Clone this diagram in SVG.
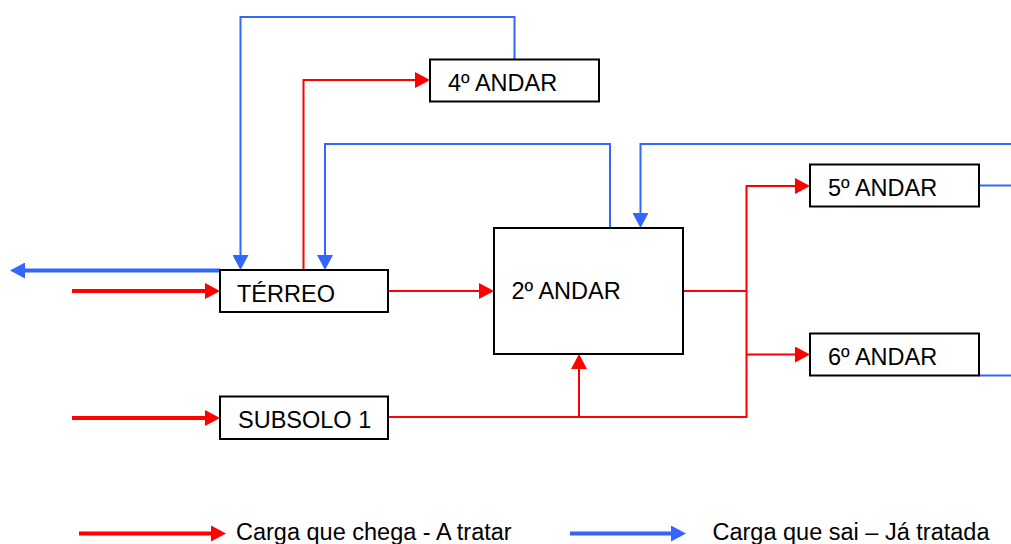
<svg xmlns="http://www.w3.org/2000/svg" width="1011" height="544" viewBox="0 0 1011 544">
<defs>
<style>
.box{fill:#fff;stroke:#000;stroke-width:2}
.lbl{font-family:"Liberation Sans",Arial,sans-serif;font-size:23.5px;fill:#000}
.r{fill:none;stroke:#ff0000;stroke-width:2}
.b{fill:none;stroke:#3366ff;stroke-width:2}
.rt{fill:none;stroke:#ff0000;stroke-width:4}
.bt{fill:none;stroke:#3366ff;stroke-width:4}
</style>
<marker id="ar" markerUnits="userSpaceOnUse" markerWidth="16" markerHeight="16" refX="0" refY="8" orient="auto"><path d="M0,0 L15,8 L0,16 Z" fill="#ff0000"/></marker>
<marker id="ab" markerUnits="userSpaceOnUse" markerWidth="16" markerHeight="16" refX="0" refY="8" orient="auto"><path d="M0,0 L15,8 L0,16 Z" fill="#3366ff"/></marker>
</defs>
<rect width="1011" height="544" fill="#fff"/>
<g id="connectors">
<path class="rt" d="M72,291 L205,291" marker-end="url(#ar)"/>
<path class="rt" d="M72,418 L205,418" marker-end="url(#ar)"/>
<path class="bt" d="M220,270.5 L25,270.5" marker-end="url(#ab)"/>
<path class="r" d="M303.5,270 L303.5,80 L415,80" marker-end="url(#ar)"/>
<path class="b" d="M514.5,59 L514.5,17 L240.5,17 L240.5,255" marker-end="url(#ab)"/>
<path class="b" d="M610,228 L610,144 L325,144 L325,255" marker-end="url(#ab)"/>
<path class="b" d="M1011,144 L640.5,144 L640.5,213" marker-end="url(#ab)"/>
<path class="r" d="M388,291 L479,291" marker-end="url(#ar)"/>
<path class="r" d="M388,417 L746.5,417 L746.5,186 L795,186" marker-end="url(#ar)"/>
<path class="r" d="M579,417 L579,369" marker-end="url(#ar)"/>
<path class="r" d="M683,291 L746.5,291"/>
<path class="r" d="M746.5,354.5 L795,354.5" marker-end="url(#ar)"/>
<path class="b" d="M979,185.5 L1011,185.5"/>
<path class="b" d="M979,375.5 L1011,375.5"/>
</g>
<g id="n-terreo"><rect class="box" x="220" y="270" width="168" height="42"/><text class="lbl" x="237" y="302">TÉRREO</text></g>
<g id="n-subsolo"><rect class="box" x="220" y="396.5" width="168" height="42.5"/><text class="lbl" x="238" y="428">SUBSOLO 1</text></g>
<g id="n-4andar"><rect class="box" x="430" y="59.5" width="169" height="42"/><text class="lbl" x="448" y="91">4º ANDAR</text></g>
<g id="n-2andar"><rect class="box" x="494" y="228" width="189" height="126"/><text class="lbl" x="511.5" y="299">2º ANDAR</text></g>
<g id="n-5andar"><rect class="box" x="810" y="164.5" width="169" height="42"/><text class="lbl" x="828" y="196">5º ANDAR</text></g>
<g id="n-6andar"><rect class="box" x="810" y="333.5" width="169" height="42"/><text class="lbl" x="828" y="364.5">6º ANDAR</text></g>
<g id="legend">
<path class="rt" d="M79,533.5 L211,533.5" marker-end="url(#ar)"/>
<text class="lbl" x="236" y="540">Carga que chega - A tratar</text>
<path class="bt" d="M570,533.5 L671,533.5" marker-end="url(#ab)"/>
<text class="lbl" x="712.5" y="540">Carga que sai – Já tratada</text>
</g>
</svg>
